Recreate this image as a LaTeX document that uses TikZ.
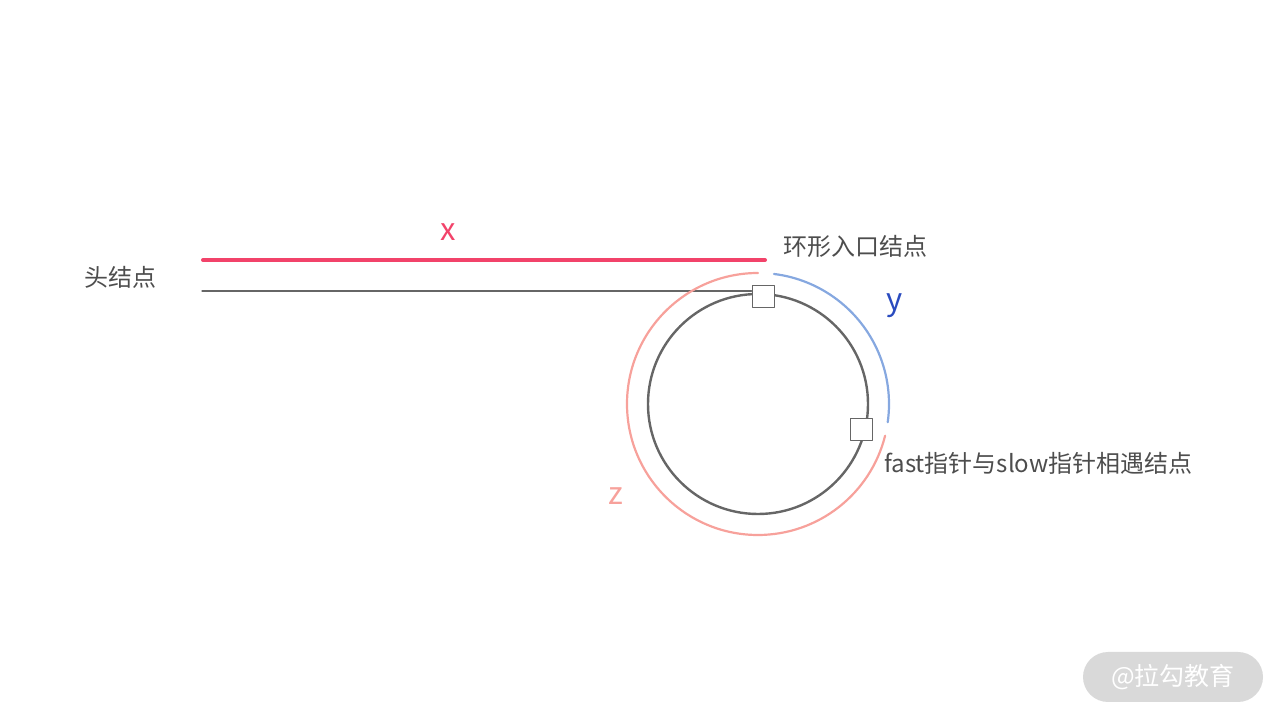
\documentclass[tikz,border=0pt]{standalone}
\usepackage{fontspec}
\setmainfont{Noto Sans CJK SC}
\definecolor{linkred}{HTML}{F2436A}
\definecolor{ringgray}{HTML}{666666}
\definecolor{zpink}{HTML}{F7A19B}
\definecolor{yblue}{HTML}{86A8E0}
\definecolor{ytext}{HTML}{2A4BBF}
\definecolor{labelgray}{HTML}{4D4D4D}
\definecolor{markgray}{HTML}{D9D9D9}
\tikzset{
  nodebox/.style={draw=ringgray, fill=white, line width=1pt, minimum size=22pt, inner sep=0pt},
  caption/.style={text=labelgray, font=\fontsize{24}{28}\selectfont, inner sep=0pt},
  letter/.style={font=\fontsize{31}{35}\selectfont, inner sep=0pt}
}
\begin{document}
\begin{tikzpicture}[x=1pt, y=1pt, line cap=round, line join=round]
% === Parameters for the ring ===
\def\cx{758}   % ring centre x
\def\cy{316}   % ring centre y
\def\ri{110}   % inner ring radius
\def\ro{131}   % outer arc radius

\useasboundingbox (0,0) rectangle (1280,720);

% === Segment x ===
\coordinate (xstart) at (203,460);
\coordinate (xend) at (765,460);
\draw[linkred, line width=4pt] (xstart) -- (xend);
\node[letter, text=linkred] (xlabel) at (448,488) {x};

% === Ring and the two marked nodes ===
\draw[ringgray, line width=2.4pt] (\cx,\cy) circle (\ri);
\node[nodebox] (entry) at (763,423) {};
\node[nodebox] (meet) at (861,290.5) {};

% === Straight part of the list ===
\coordinate (head) at (202,429);
\draw[ringgray, line width=1.2pt] (head) -- (head -| entry.west);

% === Arcs y and z ===
\draw[yblue, line width=2.2pt] ({\cx+\ro*cos(83)},{\cy+\ro*sin(83)}) arc[start angle=83, end angle=-8, radius=\ro];
\draw[zpink, line width=2.2pt] ({\cx+\ro*cos(90)},{\cy+\ro*sin(90)}) arc[start angle=90, end angle=346, radius=\ro];
\node[letter, text=ytext] (ylabel) at (895,414) {y};
\node[letter, text=zpink] (zlabel) at (616,224) {z};

% === Captions ===
\node[caption, anchor=west] (headtext) at (84,443) {头结点};
\node[caption, anchor=west] (entrytext) at (783,474) {环形入口结点};
\node[caption, anchor=west] (meettext) at (884,257) {fast指针与slow指针相遇结点};

% === Watermark ===
\node[fill=markgray, rounded corners=25pt, minimum width=180pt, minimum height=50pt, text=white,
  font=\fontsize{25}{28}\selectfont] (mark) at (1173,43) {@拉勾教育};
\end{tikzpicture}
\end{document}
